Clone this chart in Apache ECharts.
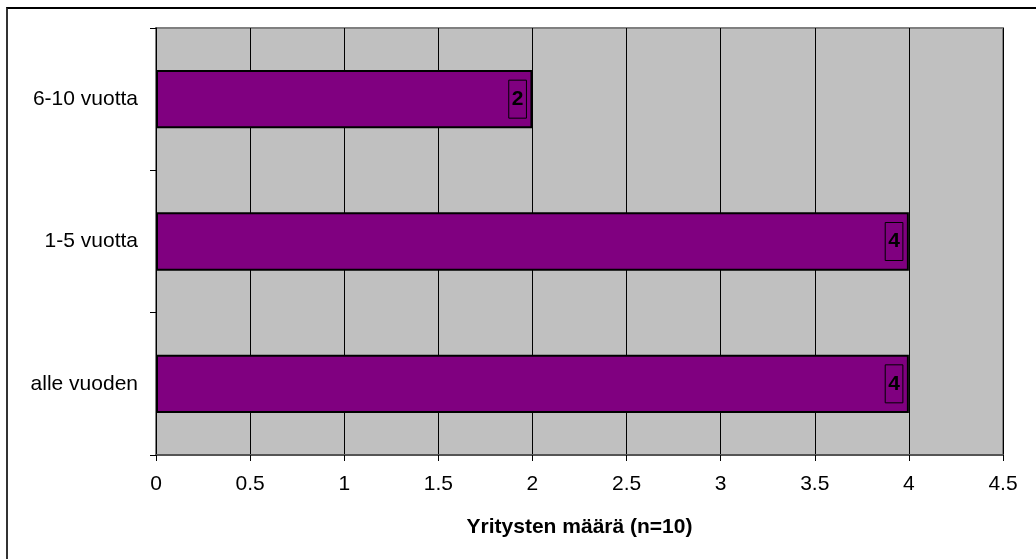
<!DOCTYPE html>
<html>
<head>
<meta charset="utf-8">
<script src="https://cdn.jsdelivr.net/npm/echarts@6/dist/echarts.min.js"></script>
<style>
html,body{margin:0;padding:0;background:#fff;}
#frame{position:absolute;left:6px;top:7px;width:1100px;height:600px;border-top:2px solid #000;border-left:2px solid #333;}
#chart{position:absolute;left:0;top:0;width:1036px;height:559px;}
</style>
</head>
<body>
<div id="frame"></div>
<div id="chart"></div>
<script>
const categories = ['alle vuoden', '1-5 vuotta', '6-10 vuotta'];
const values = [4, 4, 2];
const xMin = 0, xMax = 4.5, xInterval = 0.5;
const axisTitle = 'Yritysten määrä (n=10)';

const chart = echarts.init(document.getElementById('chart'));
chart.setOption({
  animation: false,
  textStyle: { fontFamily: 'Liberation Sans, Arial, sans-serif' },
  grid: {
    left: 156, right: 33, top: 28, bottom: 104,
    show: true, backgroundColor: '#C0C0C0', borderColor: '#808080', borderWidth: 2
  },
  xAxis: {
    type: 'value', min: xMin, max: xMax, interval: xInterval,
    axisLine: { show: true, lineStyle: { color: '#555', width: 2 } },
    axisTick: { show: true, length: 6, lineStyle: { color: '#000' } },
    splitLine: { show: true, lineStyle: { color: '#000', width: 1 } },
    axisLabel: { color: '#000', fontSize: 21, margin: 19 },
    name: axisTitle, nameLocation: 'middle', nameGap: 62,
    nameTextStyle: { color: '#000', fontSize: 21, fontWeight: 'bold' }
  },
  yAxis: {
    type: 'category', data: categories,
    axisLine: { show: true, lineStyle: { color: '#000', width: 1 } },
    axisTick: { show: true, length: 6, lineStyle: { color: '#000' } },
    axisLabel: { color: '#000', fontSize: 21, margin: 18 }
  },
  series: [{
    type: 'bar', data: values, barWidth: '41%',
    itemStyle: { color: '#800080', borderColor: '#000', borderWidth: 2 },
    label: {
      show: true, position: 'insideRight', distance: 6,
      color: '#000', fontSize: 21, fontWeight: 'bold',
      borderColor: '#000', borderWidth: 1, padding: [9, 3, 8, 3]
    }
  }]
});
</script>
</body>
</html>
